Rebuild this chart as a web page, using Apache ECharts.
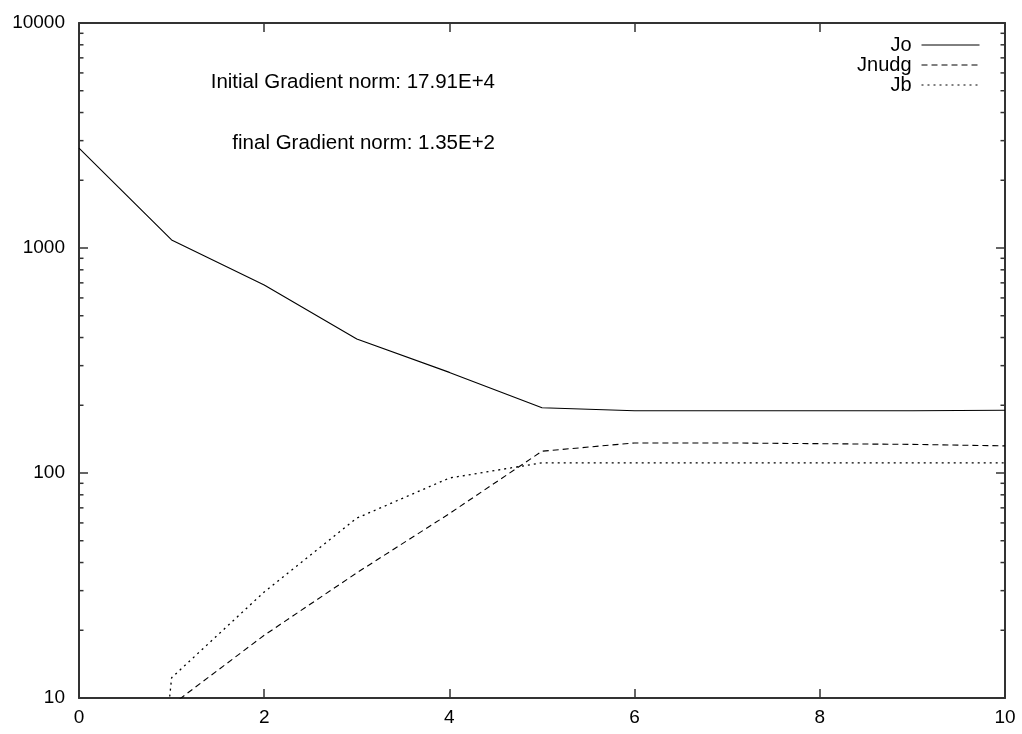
<!DOCTYPE html>
<html>
<head>
<meta charset="utf-8">
<style>
  html, body { margin: 0; padding: 0; background: #fff; }
  #chart { width: 1022px; height: 734px; }
</style>
<script src="https://cdn.jsdelivr.net/npm/echarts@6/dist/echarts.min.js"></script>
</head>
<body>
<div id="chart"></div>
<script>
// ---- data ----
const iterations = [0, 1, 2, 3, 4, 5, 6, 7, 8, 9, 10];
const jo    = [2780, 1086, 685, 394, 280, 195, 189, 189, 189, 189, 190];
const jnudg = [null, 9.3, 19, 36, 66, 125, 136, 136, 135, 134, 132];
const jb    = [0.001, 12.3, 29.6, 63, 95, 111, 111, 111, 111, 111, 111];
const yMajorTicks = [10, 100, 1000, 10000];
const yMinorTicks = [20, 30, 40, 50, 60, 70, 80, 90,
                     200, 300, 400, 500, 600, 700, 800, 900,
                     2000, 3000, 4000, 5000, 6000, 7000, 8000, 9000];
const xTicks = [0, 2, 4, 6, 8, 10];
const annotations = ['Initial Gradient norm: 17.91E+4', 'final Gradient norm: 1.35E+2'];

const FONT = "'Liberation Sans', Arial, Helvetica, sans-serif";
const AXIS_COLOR = '#333';
const pairs = arr => iterations.map((x, i) => [x, arr[i]]);

const chart = echarts.init(document.getElementById('chart'), null, { renderer: 'canvas' });

const xCommon = {
  type: 'value', min: xTicks[0], max: xTicks[xTicks.length - 1], interval: 2,
  axisLine: { show: true, onZero: false, lineStyle: { color: AXIS_COLOR, width: 2 } },
  axisTick: { show: true, inside: true, length: 9, lineStyle: { color: AXIS_COLOR, width: 1.5 } },
  splitLine: { show: false }
};
const yCommon = {
  type: 'log', logBase: 10, min: yMajorTicks[0], max: yMajorTicks[yMajorTicks.length - 1],
  axisLine: { show: true, onZero: false, lineStyle: { color: AXIS_COLOR, width: 2 } },
  axisTick: { show: true, inside: true, length: 9, lineStyle: { color: AXIS_COLOR, width: 1.5 } },
  splitLine: { show: false }
};

const lineSeries = (name, arr, type, width) => ({
  name, type: 'line', data: pairs(arr), symbol: 'none', showSymbol: false,
  xAxisIndex: 0, yAxisIndex: 0, clip: true, connectNulls: false,
  lineStyle: { color: '#000', width, type },
  itemStyle: { color: '#000' },
  emphasis: { disabled: true }
});

const legendFor = (name, top) => ({
  data: [name], right: 42, top, orient: 'vertical', align: 'right',
  itemWidth: 58, itemHeight: 14, padding: 0,
  selectedMode: false,
  itemStyle: { color: 'rgba(0,0,0,0)', borderWidth: 0, opacity: 0 },
  lineStyle: { width: 1 },
  textStyle: { fontFamily: FONT, fontSize: 20, color: '#000', padding: [0, 5, 0, 0] }
});

chart.setOption({
  animation: false,
  backgroundColor: '#fff',
  grid: { left: 79, right: 17, top: 23, bottom: 36, containLabel: false },
  xAxis: [
    Object.assign({}, xCommon, {
      position: 'bottom',
      axisLabel: { show: true, margin: 10, color: '#000', fontFamily: FONT, fontSize: 19 }
    }),
    Object.assign({}, xCommon, { position: 'top', axisLabel: { show: false } })
  ],
  yAxis: [
    Object.assign({}, yCommon, {
      position: 'left',
      axisLabel: {
        show: true, margin: 14, color: '#000', fontFamily: FONT, fontSize: 19,
        formatter: v => String(Math.round(v))
      }
    }),
    Object.assign({}, yCommon, { position: 'right', axisLabel: { show: false } })
  ],
  legend: [legendFor('Jo', 35), legendFor('Jnudg', 55), legendFor('Jb', 75)],
  graphic: [
    { type: 'text', right: 1022 - 495, top: 72,
      style: { text: annotations[0], fill: '#000', font: '20.5px ' + FONT } },
    { type: 'text', right: 1022 - 495, top: 133,
      style: { text: annotations[1], fill: '#000', font: '20.5px ' + FONT } }
  ],
  series: [
    lineSeries('Jo', jo, 'solid', 1.1),
    lineSeries('Jnudg', jnudg, [6, 4], 1.1),
    lineSeries('Jb', jb, [2, 4], 1.3),
    {
      type: 'custom', name: 'minorTicks', silent: true,
      xAxisIndex: 0, yAxisIndex: 0, clip: false,
      data: yMinorTicks.map(v => [xTicks[0], v]),
      renderItem: (params, api) => {
        const v = api.value(1);
        const l = api.coord([xTicks[0], v]);
        const r = api.coord([xTicks[xTicks.length - 1], v]);
        const st = { stroke: AXIS_COLOR, lineWidth: 1.5 };
        return {
          type: 'group',
          children: [
            { type: 'line', shape: { x1: l[0], y1: l[1], x2: l[0] + 4.5, y2: l[1] }, style: st },
            { type: 'line', shape: { x1: r[0] - 4.5, y1: r[1], x2: r[0], y2: r[1] }, style: st }
          ]
        };
      }
    }
  ]
});
</script>
</body>
</html>
